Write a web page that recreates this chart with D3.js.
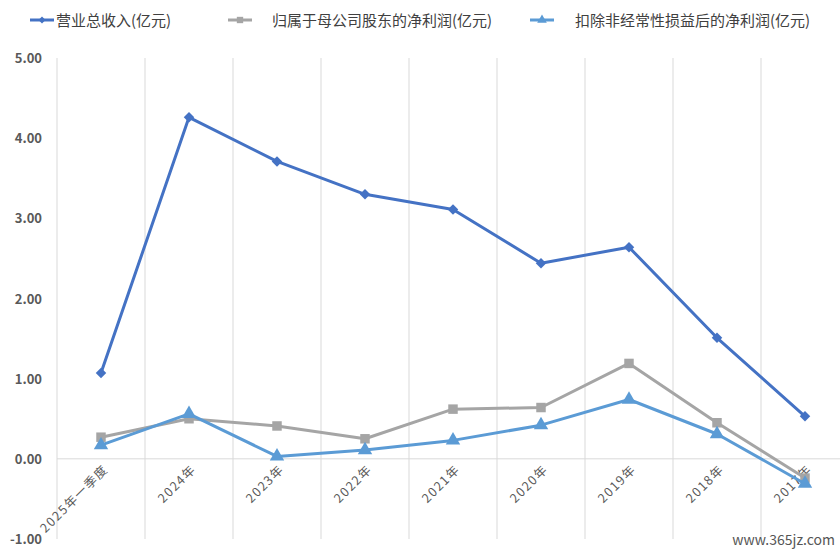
<!DOCTYPE html>
<meta charset="utf-8">
<style>
body{margin:0;background:#fff;font-family:"Noto Sans CJK SC","Noto Sans",sans-serif;}
</style>
<body>
<svg width="840" height="552"></svg>
<script src="https://d3js.org/d3.v7.min.js"></script>
<script>
var categories = ["2025年一季度","2024年","2023年","2022年","2021年","2020年","2019年","2018年","2017年"];
var revenue = [1.07,4.26,3.71,3.30,3.11,2.44,2.64,1.51,0.53];
var netProfit = [0.27,0.50,0.41,0.25,0.62,0.64,1.19,0.45,-0.24];
var deducted = [0.17,0.56,0.03,0.11,0.23,0.42,0.74,0.31,-0.31];
var yTicks = [-1,0,1,2,3,4,5];
var seriesNames = ["营业总收入(亿元)","归属于母公司股东的净利润(亿元)","扣除非经常性损益后的净利润(亿元)"];

var series = [
  {name:seriesNames[0], values:revenue, color:"#4472c4", sym:d3.symbolSquare, rot:45, size:55},
  {name:seriesNames[1], values:netProfit, color:"#a5a5a5", sym:d3.symbolSquare, rot:0, size:90},
  {name:seriesNames[2], values:deducted, color:"#5b9bd5", sym:d3.symbolTriangle, rot:0, size:90}
];

var svg = d3.select("svg");
var x = d3.scaleBand().domain(categories).range([57,849]);
var y = d3.scaleLinear().domain([-1,5]).range([539,58]);

// vertical gridlines
svg.append("g").selectAll("line").data(categories.concat(["end"])).join("line")
  .attr("x1",(d,i)=>57+i*x.step()).attr("x2",(d,i)=>57+i*x.step())
  .attr("y1",58).attr("y2",539).attr("stroke","#d9d9d9");
svg.append("line").attr("x1",57).attr("x2",840).attr("y1",y(0)).attr("y2",y(0)).attr("stroke","#d9d9d9");

// y labels
svg.append("g").selectAll("text").data(yTicks).join("text")
  .attr("x",42).attr("y",d=>y(d)+5).attr("text-anchor","end")
  .attr("font-size",13).attr("font-weight","bold").attr("fill","#595959")
  .text(d=>d.toFixed(2));

// x labels rotated
svg.append("g").selectAll("text").data(categories).join("text")
  .attr("transform",d=>"translate("+(x(d)+x.bandwidth()/2+8)+",470) rotate(-45)")
  .attr("text-anchor","end").attr("font-size",12.5).attr("fill","#595959")
  .attr("letter-spacing",1.5)
  .text(d=>d);

var line = d3.line().x((d,i)=>x(categories[i])+x.bandwidth()/2).y(d=>y(d));
series.forEach(function(s){
  svg.append("path").attr("d",line(s.values)).attr("fill","none")
    .attr("stroke",s.color).attr("stroke-width",3).attr("stroke-linejoin","round");
  svg.append("g").selectAll("path").data(s.values).join("path")
    .attr("transform",(d,i)=>"translate("+(x(categories[i])+x.bandwidth()/2)+","+y(d)+") rotate("+s.rot+")")
    .attr("d",d3.symbol().type(s.sym).size(s.size)).attr("fill",s.color);
});

// legend
var lx = [30,228,530], tx = [56,272,575];
series.forEach(function(s,i){
  svg.append("line").attr("x1",lx[i]).attr("x2",lx[i]+24).attr("y1",20).attr("y2",20)
    .attr("stroke",s.color).attr("stroke-width",3);
  svg.append("path").attr("transform","translate("+(lx[i]+12)+",20) rotate("+s.rot+")")
    .attr("d",d3.symbol().type(s.sym).size(s.size*0.45)).attr("fill",s.color);
  svg.append("text").attr("x",tx[i]).attr("y",26).attr("font-size",15).attr("fill","#404040").text(s.name);
});

svg.append("text").attr("x",835).attr("y",545).attr("text-anchor","end")
  .attr("font-size",14).attr("fill","#555").text("www.365jz.com");
</script>
</body>
</html>
